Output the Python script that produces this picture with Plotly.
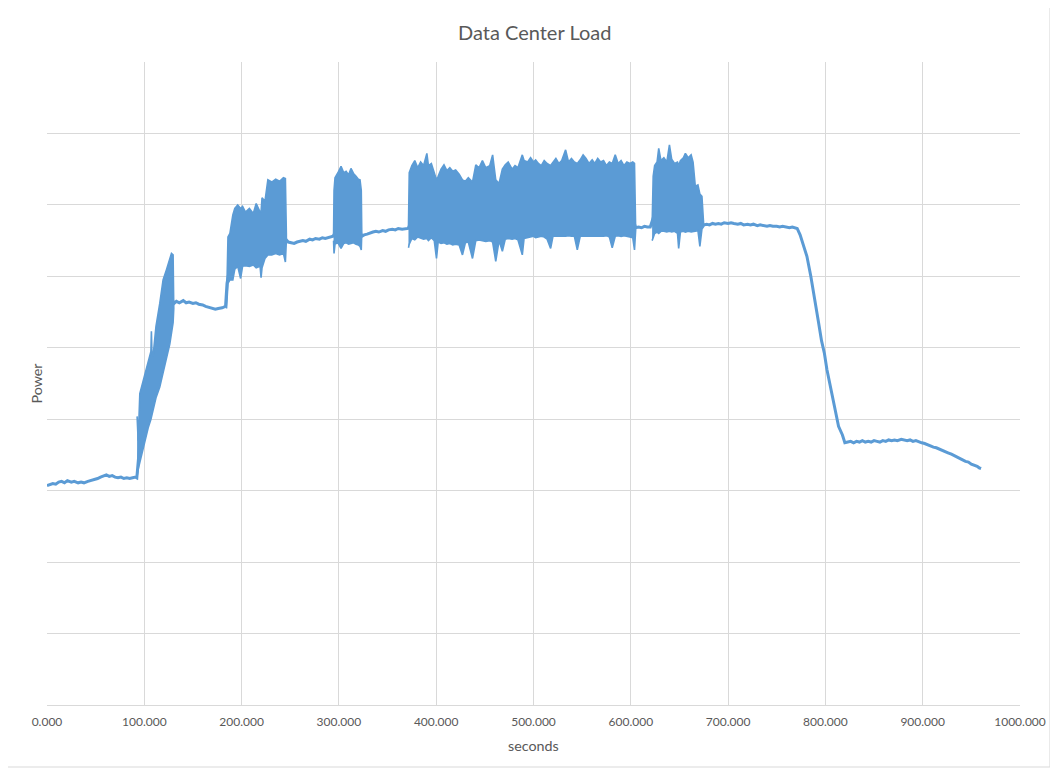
import plotly.graph_objects as go

BLUE = "#5B9BD5"
GRID = "#D9D9D9"
TXT = "#595959"

# ---- continuous (smooth) signal ----
time_s = [0, 3, 6, 9, 12, 15, 18, 21, 25, 28, 32, 35, 38, 42, 45, 48, 52, 55, 58, 61, 64, 67, 70, 73, 76, 79,
          82, 85, 88, 91, 92.3, 95, 100, 105, 110, 115, 120, 125, 128, 130.5, 133, 136, 140, 143, 146, 150,
          153, 156, 160, 163, 166, 170, 173, 176, 180, 183.5, 185, 190, 200, 210, 220, 230, 240, 246, 248,
          251, 254, 257, 260, 263, 266, 270, 273, 276, 280, 283, 286, 290, 294, 300, 310, 320, 323.5, 326,
          329, 332, 335, 338, 341, 345, 348, 351, 355, 358, 361, 365, 368, 371, 380, 400, 450, 500, 550, 600,
          605, 608, 611, 614, 617, 620, 625, 650, 675, 678, 681, 684, 687, 690, 693, 696, 700, 703, 706, 710,
          713, 716, 720, 723, 726, 730, 733, 736, 740, 743, 746, 750, 753, 756, 760, 763, 766, 768, 771,
          774, 777, 781, 785, 789, 793, 796, 799, 801.5, 805, 808, 811, 813.5, 817.5, 820, 823, 826, 829, 832,
          835, 838, 841, 844, 847, 850, 853, 856, 859, 862, 865, 868, 871, 874, 878, 881, 884, 887, 890,
          893, 896, 899, 902, 905, 908, 911, 914, 917, 920, 923, 926, 929.5, 932, 935, 938, 941, 944, 947,
          950, 953, 956, 958, 960]
power_s = [3.07, 3.08, 3.10, 3.09, 3.12, 3.13, 3.11, 3.14, 3.12, 3.13, 3.11, 3.12, 3.11, 3.13, 3.14, 3.15,
           3.17, 3.19, 3.21, 3.22, 3.20, 3.21, 3.19, 3.18, 3.19, 3.17, 3.18, 3.17, 3.18, 3.19, 3.18, 3.6,
           4.1, 4.4, 4.8, 5.1, 5.4, 5.6, 5.7, 5.62, 5.65, 5.63, 5.66, 5.63, 5.64, 5.62, 5.63, 5.61, 5.60,
           5.58, 5.57, 5.55, 5.54, 5.55, 5.56, 5.58, 5.9, 6.3, 6.4, 6.4, 6.5, 6.6, 6.6, 6.52, 6.48, 6.47,
           6.46, 6.48, 6.49, 6.50, 6.49, 6.52, 6.51, 6.53, 6.52, 6.54, 6.53, 6.55, 6.56, 6.7, 6.7, 6.7, 6.56,
           6.58, 6.59, 6.61, 6.62, 6.63, 6.62, 6.64, 6.63, 6.65, 6.66, 6.65, 6.67, 6.66, 6.67, 6.67, 6.9,
           6.9, 6.9, 6.9, 6.9, 6.9, 6.68, 6.69, 6.68, 6.70, 6.69, 6.69, 6.9, 6.9, 6.72, 6.73, 6.72, 6.74,
           6.73, 6.74, 6.73, 6.75, 6.74, 6.75, 6.74, 6.73, 6.74, 6.72, 6.73, 6.72, 6.73, 6.71, 6.72, 6.71,
           6.70, 6.71, 6.70, 6.70, 6.69, 6.70, 6.69, 6.68, 6.69, 6.68, 6.67, 6.58, 6.45, 6.28, 6.00, 5.70,
           5.35, 5.10, 4.92, 4.70, 4.46, 4.25, 4.04, 3.90, 3.78, 3.67, 3.68, 3.69, 3.67, 3.69, 3.68, 3.70,
           3.68, 3.69, 3.68, 3.70, 3.69, 3.68, 3.70, 3.69, 3.71, 3.70, 3.71, 3.70, 3.72, 3.71, 3.70, 3.71,
           3.69, 3.70, 3.68, 3.67, 3.66, 3.64, 3.63, 3.61, 3.60, 3.58, 3.57, 3.54, 3.53, 3.51, 3.49, 3.47,
           3.45, 3.43, 3.41, 3.40, 3.37, 3.36, 3.34, 3.32, 3.31, 3.29, 3.30, 3.27, 3.26]

# ---- noisy bursts: envelope (time, upper, lower) ----
ramp_t = [92.6, 93.7, 95.4, 98, 101, 104, 106.8, 107.3, 107.8, 109, 112, 115.9, 119.3, 122.7, 126.2, 127.9, 129.6, 130.3]
ramp_hi = [4.04, 3.70, 4.36, 4.50, 4.65, 4.80, 4.95, 5.23, 4.95, 4.88, 5.30, 5.62, 5.95, 6.09, 6.23, 6.32, 6.30, 5.70]
ramp_lo = [3.20, 3.30, 3.41, 3.55, 3.72, 3.88, 4.00, 4.03, 4.06, 4.10, 4.30, 4.45, 4.65, 4.85, 5.05, 5.20, 5.35, 5.55]

b1_t = [184.5, 186, 188, 191, 193, 196, 199, 201, 204, 208, 212, 215, 219, 220, 221, 224, 227, 231, 235, 239, 243, 245, 246]
b1_hi = [5.60, 6.55, 6.60, 6.86, 6.95, 7.00, 6.95, 6.98, 6.90, 6.95, 6.88, 7.02, 6.90, 6.90, 7.10, 7.05, 7.35, 7.32, 7.36, 7.33, 7.38, 7.37, 6.60]
b1_lo = [5.55, 5.90, 5.95, 5.95, 6.10, 6.14, 5.97, 6.14, 6.15, 6.14, 6.16, 6.12, 6.14, 5.98, 6.12, 6.25, 6.30, 6.30, 6.32, 6.30, 6.32, 6.20, 6.50]

b2_t = [294.5, 295, 296, 297.1, 299, 302.2, 305, 307.4, 310, 312.4, 315, 317.6, 320, 321.7, 323, 323.5]
b2_hi = [6.56, 7.20, 7.38, 7.40, 7.45, 7.54, 7.45, 7.47, 7.42, 7.51, 7.44, 7.40, 7.36, 7.35, 7.20, 6.60]
b2_lo = [6.50, 6.32, 6.45, 6.46, 6.47, 6.39, 6.46, 6.47, 6.45, 6.46, 6.47, 6.45, 6.44, 6.42, 6.37, 6.55]

b3_t = [371.5, 372.3, 375, 378, 381, 384, 387, 390.4, 392, 395, 398, 400.3, 402, 405, 408, 411, 414, 417, 420,
        423.6, 427, 430, 433, 437.3, 440.7, 444, 447.5, 451, 455, 458, 461.2, 464.6, 468, 471, 474, 478, 481,
        484, 488.5, 490.3, 494, 497, 500, 502.2, 505, 508, 511, 514, 517.6, 520, 523, 526, 529, 533, 536, 539,
        542, 545, 548, 551, 554, 557, 560.3, 563, 566, 569, 572, 575, 578, 580.9, 584, 587, 590, 593, 596,
        599, 602, 603.8, 605]
b3_hi = [6.70, 7.45, 7.55, 7.62, 7.52, 7.60, 7.55, 7.72, 7.55, 7.58, 7.45, 7.35, 7.40, 7.50, 7.56, 7.48, 7.52,
         7.47, 7.49, 7.43, 7.35, 7.33, 7.38, 7.32, 7.56, 7.52, 7.62, 7.52, 7.55, 7.70, 7.35, 7.30, 7.50, 7.56,
         7.60, 7.50, 7.55, 7.52, 7.70, 7.62, 7.60, 7.66, 7.60, 7.63, 7.58, 7.55, 7.62, 7.58, 7.55, 7.60, 7.65,
         7.58, 7.62, 7.77, 7.60, 7.65, 7.60, 7.58, 7.63, 7.70, 7.65, 7.58, 7.63, 7.58, 7.65, 7.60, 7.62, 7.55,
         7.60, 7.58, 7.70, 7.58, 7.62, 7.55, 7.60, 7.58, 7.60, 7.58, 6.80]
b3_lo = [6.40, 6.45, 6.53, 6.51, 6.55, 6.53, 6.52, 6.53, 6.50, 6.54, 6.50, 6.25, 6.48, 6.46, 6.47, 6.45, 6.46,
         6.44, 6.45, 6.44, 6.30, 6.47, 6.48, 6.25, 6.50, 6.51, 6.50, 6.49, 6.50, 6.48, 6.21, 6.50, 6.35, 6.52,
         6.53, 6.52, 6.53, 6.51, 6.30, 6.53, 6.55, 6.55, 6.56, 6.54, 6.55, 6.56, 6.55, 6.52, 6.39, 6.56, 6.56,
         6.57, 6.56, 6.56, 6.57, 6.56, 6.56, 6.37, 6.56, 6.57, 6.57, 6.56, 6.57, 6.56, 6.57, 6.56, 6.56, 6.57,
         6.55, 6.40, 6.56, 6.57, 6.56, 6.57, 6.56, 6.55, 6.54, 6.37, 6.65]

b4_t = [621.9, 623, 624.5, 627, 628.7, 631, 634, 637, 639.7, 642, 645, 648, 649.2, 651, 654, 656.1, 659, 662,
        664, 666.3, 669, 671, 673.1, 675]
b4_hi = [6.70, 7.40, 7.55, 7.60, 7.79, 7.62, 7.66, 7.60, 7.84, 7.64, 7.58, 7.60, 7.55, 7.62, 7.66, 7.72, 7.66,
         7.70, 7.60, 7.26, 7.28, 7.15, 7.12, 6.80]
b4_lo = [6.50, 6.55, 6.60, 6.62, 6.60, 6.63, 6.63, 6.62, 6.63, 6.62, 6.63, 6.60, 6.39, 6.62, 6.63, 6.62, 6.63,
         6.62, 6.63, 6.63, 6.64, 6.42, 6.66, 6.70]

bursts = [(ramp_t, ramp_hi, ramp_lo), (b1_t, b1_hi, b1_lo), (b2_t, b2_hi, b2_lo),
          (b3_t, b3_hi, b3_lo), (b4_t, b4_hi, b4_lo)]

x_ticks = [0, 100, 200, 300, 400, 500, 600, 700, 800, 900, 1000]

# page body has an 8px margin, so the figure is sized/offset to compensate
W, H = 1050, 762
L, T = 39, 54
PW, PH = 975, 643

fig = go.Figure()
fig.add_trace(go.Scatter(x=time_s, y=power_s, mode="lines",
                         line=dict(color=BLUE, width=3), hoverinfo="skip"))

bx, by = [], []
for t, hi, lo in bursts:
    bx += list(t) + list(t[::-1]) + [None]
    by += list(hi) + list(lo[::-1]) + [None]
fig.add_trace(go.Scatter(x=bx, y=by, mode="lines", fill="toself", fillcolor=BLUE,
                         line=dict(color=BLUE, width=1.6), hoverinfo="skip"))

fig.update_layout(
    width=W, height=H,
    margin=dict(l=L, r=W - L - PW, t=T, b=H - T - PH),
    paper_bgcolor="white", plot_bgcolor="white",
    showlegend=False,
    font=dict(family="Lato, 'Open Sans', sans-serif", color=TXT),
    xaxis=dict(range=[0, 1000], tickvals=x_ticks, tickformat=".3f",
               showgrid=True, gridcolor=GRID, gridwidth=1,
               showline=True, linecolor=GRID, linewidth=1, mirror=False,
               zeroline=False, ticks="outside", ticklen=6, tickcolor="rgba(0,0,0,0)",
               tickfont=dict(size=12, color=TXT)),
    yaxis=dict(range=[0, 9], dtick=1, showticklabels=False,
               showgrid=True, gridcolor=GRID, gridwidth=1,
               zeroline=False, showline=False),
    annotations=[
        dict(text="Data Center Load", xref="paper", yref="paper", x=(536 - 47) / PW, y=1 + 30 / PH,
             showarrow=False, font=dict(size=20, color=TXT), xanchor="center", yanchor="middle"),
        dict(text="seconds", xref="paper", yref="paper", x=(534 - 47) / PW, y=-40 / PH,
             showarrow=False, font=dict(size=14.3, color=TXT), xanchor="center", yanchor="middle"),
        dict(text="Power", xref="paper", yref="paper", x=-11 / PW, y=0.5, textangle=-90,
             showarrow=False, font=dict(size=14.3, color=TXT), xanchor="center", yanchor="middle"),
    ],
    shapes=[dict(type="rect", xref="paper", yref="paper",
                 x0=(6.5 - 47) / PW, x1=(1052 - 47) / PW,
                 y0=-(767 - 705) / PH, y1=1 + (62 - 5.5) / PH,
                 line=dict(color=GRID, width=1), fillcolor="rgba(0,0,0,0)", layer="below")],
)

fig.write_html("out.html")
